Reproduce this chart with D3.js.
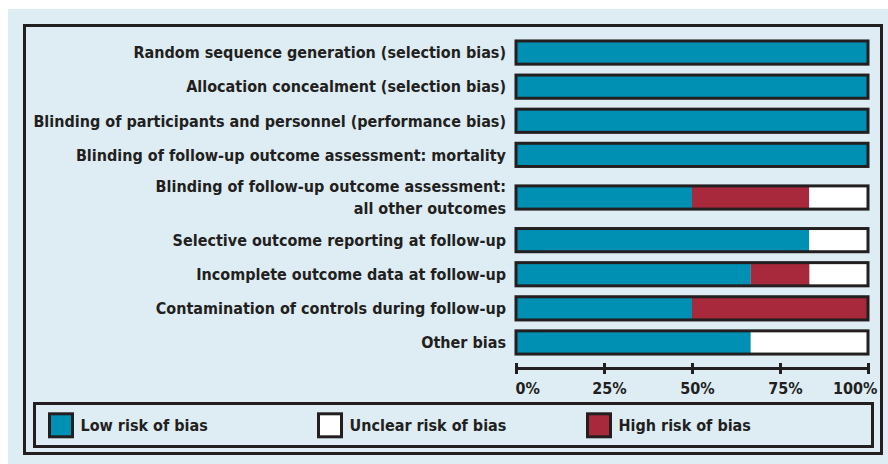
<!DOCTYPE html>
<html>
<head>
<meta charset="utf-8">
<script src="https://cdn.jsdelivr.net/npm/d3@7.9.0/dist/d3.min.js"></script>
<style>
  body { margin: 0; background: #fff; }
  svg { display: block; font-family: "DejaVu Sans Condensed", "DejaVu Sans", sans-serif; font-stretch: condensed; font-weight: bold; }
</style>
</head>
<body>
<svg id="chart" width="888" height="464"></svg>
<script>
const domains = [
  'Random sequence generation (selection bias)',
  'Allocation concealment (selection bias)',
  'Blinding of participants and personnel (performance bias)',
  'Blinding of follow-up outcome assessment: mortality',
  'Blinding of follow-up outcome assessment:\nall other outcomes',
  'Selective outcome reporting at follow-up',
  'Incomplete outcome data at follow-up',
  'Contamination of controls during follow-up',
  'Other bias'
];
// percent of studies per judgement
const lowRisk     = [100, 100, 100, 100, 50, 83.3, 66.7, 50, 66.7];
const highRisk    = [0, 0, 0, 0, 33.3, 0, 16.7, 50, 0];
const unclearRisk = [0, 0, 0, 0, 16.7, 16.7, 16.7, 0, 33.3];

const seriesKeys = ['low', 'high', 'unclear'];
const legendKeys = ['low', 'unclear', 'high'];
const legendLabels = { low: 'Low risk of bias', unclear: 'Unclear risk of bias', high: 'High risk of bias' };
const tickValues = [0, 25, 50, 75, 100];

const colors = { low: '#0090b3', high: '#a8293b', unclear: '#ffffff' };
const ink = '#231f20';
const fontSize = 16;

const svg = d3.select('#chart');

// panel background + frame
svg.append('rect').attr('x', 8).attr('y', 9).attr('width', 880).attr('height', 455).attr('fill', '#deedf4');
svg.append('rect').attr('x', 24.5).attr('y', 25.5).attr('width', 857).attr('height', 428)
  .attr('fill', 'none').attr('stroke', ink).attr('stroke-width', 3);

let rows = domains.map((d, i) => ({
  label: d,
  lines: d.split('\n'),
  low: lowRisk[i], high: highRisk[i], unclear: unclearRisk[i]
}));

// rows with two-line labels get more room
let offset = 0;
rows.forEach((r) => {
  r.units = 1 + 0.5 * (r.lines.length - 1);
  r.start = offset;
  offset += r.units;
});

const x = d3.scaleLinear().domain([0, 100]).range([516, 868]);
const y = d3.scaleLinear().domain([0, offset]).range([35.5, 359.5]);
const barH = 23.2;

let stack = d3.stack().keys(seriesKeys)(rows);

const rowG = svg.append('g').selectAll('g').data(rows).join('g')
  .attr('transform', (d) => `translate(0,${y(d.start + d.units / 2)})`);

// bar segments
stack.forEach((layer) => {
  rowG.append('rect')
    .datum((d, i) => layer[i])
    .attr('x', (d) => x(d[0]))
    .attr('width', (d) => x(d[1]) - x(d[0]))
    .attr('y', -barH / 2)
    .attr('height', barH)
    .attr('fill', colors[layer.key]);
});

// bar outline
rowG.append('rect')
  .attr('x', x(0)).attr('width', x(100) - x(0))
  .attr('y', -barH / 2).attr('height', barH)
  .attr('fill', 'none').attr('stroke', ink).attr('stroke-width', 3);

// labels
rowG.append('text')
  .attr('text-anchor', 'end')
  .attr('font-size', fontSize)
  .attr('fill', ink)
  .each(function (d) {
    const n = d.lines.length;
    d3.select(this).selectAll('tspan').data(d.lines).join('tspan')
      .attr('x', 506)
      .attr('y', (l, j) => (j - (n - 1) / 2) * 22)
      .attr('dy', '0.36em')
      .text((l) => l);
  });

// axis
const axisG = svg.append('g').attr('transform', 'translate(0,368.5)')
  .call(d3.axisBottom(x).tickValues(tickValues).tickSizeOuter(0).tickSize(5).tickFormat((d) => d + '%'));
axisG.attr('font-family', null).attr('font-size', null);
axisG.select('.domain').attr('stroke', ink).attr('stroke-width', 3).attr('d', `M${x(0)},0H${x(100)}`);
axisG.selectAll('.tick line').attr('stroke', ink).attr('stroke-width', 3).attr('y1', -5.5).attr('y2', 5.5);
axisG.selectAll('.tick text')
  .attr('font-size', fontSize).attr('fill', ink)
  .attr('y', 25.5).attr('dy', 0)
  .attr('text-anchor', (d, i) => i === 0 ? 'start' : (i === tickValues.length - 1 ? 'end' : 'middle'))
  .attr('dx', (d, i) => i === 0 ? -1 : (i === tickValues.length - 1 ? 9 : 5));

// legend
svg.append('rect').attr('x', 34.5).attr('y', 403.5).attr('width', 838).attr('height', 43)
  .attr('fill', 'none').attr('stroke', ink).attr('stroke-width', 3);

const legendX = d3.scaleLinear().domain([0, 1]).range([49.5, 318.5]);
const legendG = svg.append('g').selectAll('g').data(legendKeys).join('g')
  .attr('transform', (d, i) => `translate(${legendX(i)},425.3)`);
legendG.append('rect')
  .attr('x', 0).attr('y', -11.5).attr('width', 23).attr('height', 23)
  .attr('fill', (d) => colors[d]).attr('stroke', ink).attr('stroke-width', 3);
legendG.append('text')
  .attr('x', 31).attr('dy', '0.36em')
  .attr('font-size', fontSize).attr('fill', ink)
  .text((d) => legendLabels[d]);
</script>
</body>
</html>
